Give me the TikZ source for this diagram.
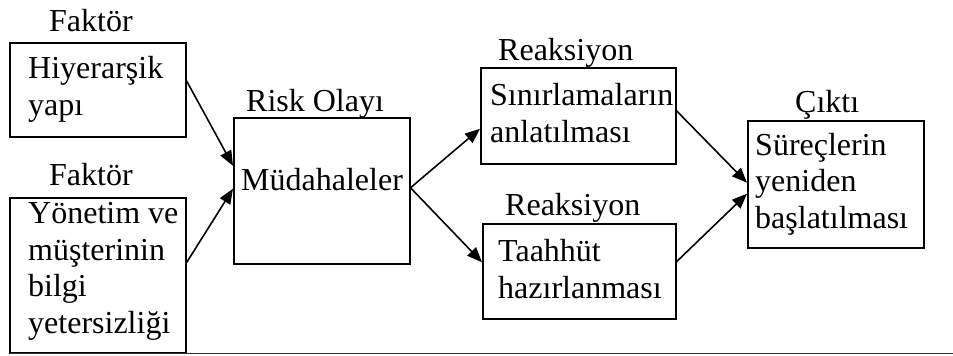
\documentclass[tikz,border=0pt]{standalone}
\usepackage{fontspec}
\setmainfont{Liberation Serif}
\usetikzlibrary{arrows.meta}
\begin{document}
\begin{tikzpicture}[x=1pt,y=-1pt,
  box/.style={draw, line width=1.5pt, rectangle, inner sep=0pt, anchor=north west},
  txt/.style={anchor=base west, inner sep=0pt, align=left,
    font=\fontsize{32}{36.5}\selectfont},
  link/.style={line width=1.6pt, -{Triangle[length=15pt,width=12pt]}}]
  \useasboundingbox (0,0) rectangle (953,356);

  % boxes
  \node[box, minimum width=176pt, minimum height=94pt]  (b1) at (9,42)   {};
  \node[box, minimum width=176pt, minimum height=155pt] (b2) at (9,197)  {};
  \node[box, minimum width=176pt, minimum height=146pt] (b3) at (233,117){};
  \node[box, minimum width=195pt, minimum height=96pt]  (b4) at (480,67) {};
  \node[box, minimum width=193pt, minimum height=95pt]  (b5) at (482,223){};
  \node[box, minimum width=176pt, minimum height=127pt] (b6) at (747,120){};

  % headings above the boxes
  \node[txt] (f1) at (49,31)   {Faktör};
  \node[txt] (f2) at (49,185)  {Faktör};
  \node[txt] (ro) at (246,111) {Risk Olayı};
  \node[txt] (r1) at (498,60)  {Reaksiyon};
  \node[txt] (r2) at (505,215) {Reaksiyon};
  \node[txt] (co) at (795,112) {Çıktı};

  % box contents (positioned at the baseline of their last line)
  \node[txt] (t1) at (28,115)  {Hiyerarşik\\yapı};
  \node[txt] (t2) at (28,333)  {Yönetim ve\\müşterinin\\bilgi\\yetersizliği};
  \node[txt] (t3) at (241,190) {Müdahaleler};
  \node[txt] (t4) at (490,142) {Sınırlamaların\\anlatılması};
  \node[txt] (t5) at (498,298) {Taahhüt\\hazırlanması};
  \node[txt] (t6) at (755,228) {Süreçlerin\\yeniden\\başlatılması};

  % connectors
  \draw[link] ([yshift=9pt]b1.east)    -- ([yshift=25pt]b3.west);
  \draw[link] ([yshift=12.5pt]b2.east) -- ([yshift=2pt]b3.west);
  \draw[link] ([yshift=3pt]b3.east)    -- ([yshift=-13pt]b4.west);
  \draw[link] ([yshift=3pt]b3.east)    -- ([yshift=9pt]b5.west);
  \draw[link] ([yshift=5pt]b4.east)    -- ([yshift=1.5pt]b6.west);
  \draw[link] ([yshift=9.5pt]b5.east)  -- ([yshift=-9.5pt]b6.west);

  % rule along the bottom
  \coordinate (l0) at (10,353);
  \coordinate (l1) at (953,353);
  \draw[line width=0.9pt, black!80] (l0) -- (l1);
\end{tikzpicture}
\end{document}
